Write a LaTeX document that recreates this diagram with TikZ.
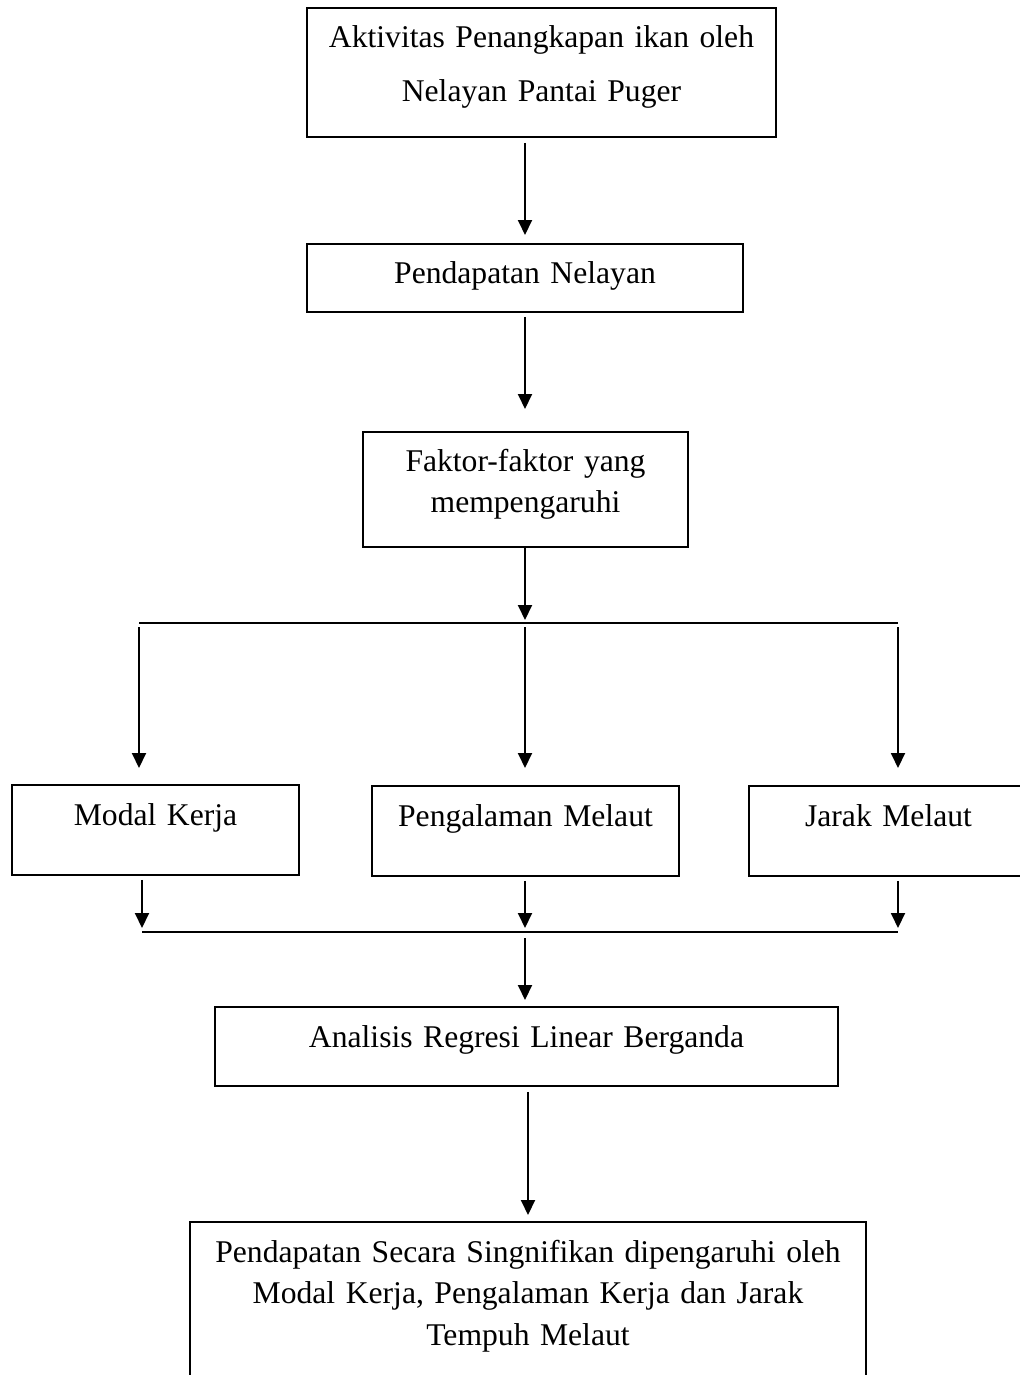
\documentclass[tikz,border=0pt]{standalone}
\usepackage{fontspec}
\setmainfont{Liberation Serif}
\usepackage{tikz}
\tikzset{box node/.style={rectangle,draw,line width=1.1pt,inner xsep=0pt,inner ysep=0.37cm,outer sep=0pt,anchor=north,align=center,text height=0.43cm,font=\fontsize{18}{23.6}\selectfont},
	arrow line/.style={line width=1.1pt,-{Triangle[length=0.3cm,width=0.28cm]}},
	plain line/.style={line width=1.1pt},
}
\usetikzlibrary{arrows.meta}

\begin{document}
\begin{tikzpicture}[x=0.02cm,y=-0.02cm]
	\useasboundingbox (0,0) rectangle (1020,1375);
	\clip (0,0) rectangle (1020,1375);
	
	%%
	\node[box node,text width=9.38cm,text depth=1.41cm,font=\fontsize{18}{30.7}\selectfont] (1) at (541.5,8) {Aktivitas Penangkapan ikan oleh\\Nelayan Pantai Puger};
	\node[box node,text width=8.72cm,text depth=0.19cm] (2) at (525,244) {Pendapatan Nelayan};
	\node[box node,text width=6.5cm,text depth=1.13cm,font=\fontsize{18}{23.3}\selectfont] (3) at (525.5,432) {Faktor-faktor yang\\mempengaruhi};
	\node[box node,text width=5.74cm,text depth=0.63cm] (4) at (155.5,785) {Modal Kerja};
	\node[box node,text width=6.14cm,text depth=0.63cm] (5) at (525.5,786) {Pengalaman Melaut};
	\node[box node,text width=5.58cm,text depth=0.63cm] (6) at (888.5,786) {Jarak Melaut};
	\node[box node,text width=12.46cm,text depth=0.41cm] (7) at (526.5,1007) {Analisis Regresi Linear Berganda};
	\node[box node,text width=13.52cm,text depth=2.2cm,font=\fontsize{18}{23.9}\selectfont] (8) at (528,1222) {Pendapatan Secara Singnifikan dipengaruhi oleh\\Modal Kerja, Pengalaman Kerja dan Jarak\\Tempuh Melaut};
	
	%% split and join points
	\coordinate (s) at (525,623);
	\coordinate (sl) at (139,623);
	\coordinate (sr) at (898,623);
	\coordinate (j) at (525,932);
	\coordinate (jl) at (142,932);
	\coordinate (jr) at (898,932);
	
	\draw[arrow line,shorten <=0.12cm,shorten >=0.18cm] (1.south -| 2.north) -- (2.north);
	\draw[arrow line,shorten <=0.1cm,shorten >=0.46cm] (2.south) -- (2.south |- 3.north);
	\draw[arrow line,shorten >=0.06cm] (s |- 3.south) -- (s);
	\draw[plain line] (sl) -- (sr);
	
	\draw[arrow line,shorten <=0.08cm,shorten >=0.34cm] (sl) -- (sl |- 4.north);
	\draw[arrow line,shorten <=0.08cm,shorten >=0.36cm] (s) -- (s |- 5.north);
	\draw[arrow line,shorten <=0.08cm,shorten >=0.36cm] (sr) -- (sr |- 6.north);
	
	\draw[arrow line,shorten <=0.1cm,shorten >=0.08cm] (jl |- 4.south) -- (jl);
	\draw[arrow line,shorten <=0.1cm,shorten >=0.08cm] (j |- 5.south) -- (j);
	\draw[arrow line,shorten <=0.1cm,shorten >=0.08cm] (jr |- 6.south) -- (jr);
	\draw[plain line] (jl) -- (jr);
	
	\draw[arrow line,shorten <=0.12cm,shorten >=0.14cm] (j) -- (j |- 7.north);
	\draw[arrow line,shorten <=0.12cm,shorten >=0.14cm] (7.south -| 8.north) -- (8.north);
\end{tikzpicture}
\end{document}
